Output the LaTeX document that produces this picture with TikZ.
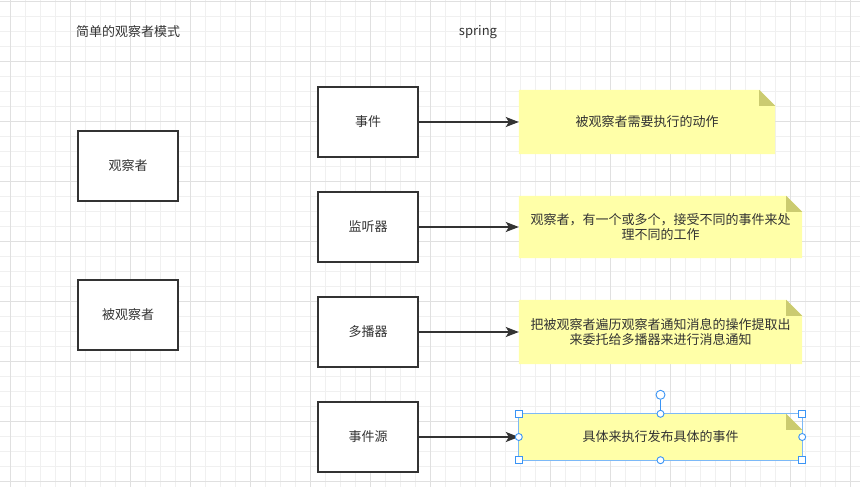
\documentclass[tikz,border=0pt]{standalone}
\usepackage{fontspec}
\setmainfont{Noto Sans CJK SC}
\usetikzlibrary{arrows.meta}
\definecolor{ink}{HTML}{333333}
\definecolor{gridminor}{HTML}{F0F0F0}
\definecolor{gridmajor}{HTML}{E0E0E0}
\definecolor{notefill}{HTML}{FFFFA8}
\definecolor{foldfill}{HTML}{CBCB70}
\definecolor{selblue}{HTML}{3A94F5}
\definecolor{sellight}{HTML}{7DB9F7}
\pgfdeclarelayer{gridlayer}
\pgfdeclarelayer{bg}
\pgfsetlayers{gridlayer,bg,main}
\begin{document}
\begin{tikzpicture}[x=1pt,y=-1pt,
  font=\fontsize{13}{15}\selectfont, text=ink,
  box/.style={draw=ink, line width=1.3pt, fill=white, minimum width=100pt, minimum height=70pt, inner sep=0pt},
  notebox/.style={inner sep=0pt, align=center},
  arr/.style={draw=ink, line width=1.3pt, -{Stealth[length=13pt,width=10pt,inset=3pt]}},
  sqh/.style={rectangle, draw=selblue, fill=white, line width=0.9pt, minimum size=7pt, inner sep=0pt},
  circh/.style={circle, draw=selblue, fill=white, line width=0.9pt, minimum size=7pt, inner sep=0pt},
  minorline/.style={draw=gridminor, line width=0.8pt},
  majorline/.style={draw=gridmajor, line width=0.9pt}]
\useasboundingbox (0,0) rectangle (860,487);
\begin{pgfonlayer}{gridlayer}
  \fill[white] (0,0) rectangle (860,487);
  \foreach \x in {10,25,...,855} \draw[minorline] (\x,0) -- (\x,487);
  \foreach \y in {1,16,...,486} \draw[minorline] (0,\y) -- (860,\y);
  \foreach \x in {10,70,...,855} \draw[majorline] (\x,0) -- (\x,487);
  \foreach \y in {1,61,...,486} \draw[majorline] (0,\y) -- (860,\y);
\end{pgfonlayer}

% titles
\node (t1) at (128,32) {简单的观察者模式};
\node (t2) at (478,32) {spring};

% simple observer
\node[box] (obs) at (128,166) {观察者};
\node[box] (subj) at (128,315) {被观察者};

% spring
\node[box] (evt) at (368,122) {事件};
\node[box] (lis) at (368,227) {监听器};
\node[box] (mul) at (368,332) {多播器};
\node[box] (src) at (368,437) {事件源};

\node[notebox, minimum width=256pt, minimum height=64pt] (n1) at (647,122) {被观察者需要执行的动作};
\node[notebox, minimum width=283pt, minimum height=62pt] (n2) at (660.5,227) {观察者，有一个或多个，接受不同的事件来处\\理不同的工作};
\node[notebox, minimum width=283pt, minimum height=64pt] (n3) at (660.5,332) {把被观察者遍历观察者通知消息的操作提取出\\来委托给多播器来进行消息通知};
\node[notebox, minimum width=283pt, minimum height=46pt] (n4) at (660.5,437) {具体来执行发布具体的事件};

\begin{pgfonlayer}{bg}
  \foreach \n in {n1,n2,n3,n4} {
    \fill[notefill] (\n.north west) -- ([xshift=-16pt]\n.north east) -- ([yshift=-16pt]\n.north east) -- (\n.south east) -- (\n.south west) -- cycle;
    \fill[foldfill] ([xshift=-16pt]\n.north east) -- ([xshift=-16pt,yshift=-16pt]\n.north east) -- ([yshift=-16pt]\n.north east) -- cycle;
  }
\end{pgfonlayer}

\draw[arr] (evt.east) -- (n1.west);
\draw[arr] (lis.east) -- (n2.west);
\draw[arr] (mul.east) -- (n3.west);
\draw[arr] (src.east) -- (n4.west);

% selection overlay on n4
\draw[sellight, line width=0.8pt] (n4.north west) rectangle (n4.south east);
\node[circh, minimum size=9pt] (rot) at ([yshift=19pt]n4.north) {};
\draw[selblue, line width=1pt] (rot) -- (n4.north);
\node[sqh] (hnw) at (n4.north west) {};
\node[sqh] (hne) at (n4.north east) {};
\node[sqh] (hsw) at (n4.south west) {};
\node[sqh] (hse) at (n4.south east) {};
\node[circh] (hn) at (n4.north) {};
\node[circh] (hs) at (n4.south) {};
\node[circh] (hw) at (n4.west) {};
\node[circh] (he) at (n4.east) {};
\end{tikzpicture}
\end{document}
